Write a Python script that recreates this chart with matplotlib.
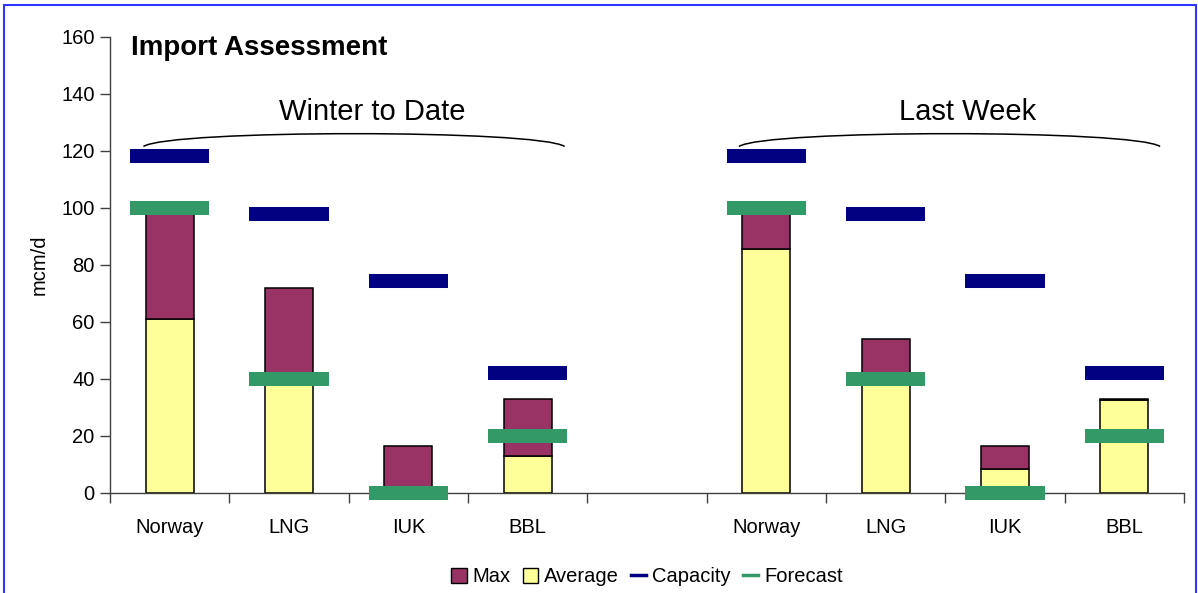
import numpy as np
import matplotlib
matplotlib.use("Agg")
import matplotlib.pyplot as plt
from matplotlib.patches import Patch, PathPatch, Rectangle
from matplotlib.lines import Line2D
from matplotlib.path import Path

plt.rcParams["font.family"] = ["Liberation Sans", "DejaVu Sans"]

# ── Data ──────────────────────────────────────────────────────────────────────
categories = ["Norway", "LNG", "IUK", "BBL", "", "Norway", "LNG", "IUK", "BBL"]
average    = [61, 40, 0, 13, np.nan, 85.5, 40, 8.5, 32.5]
maximum    = [99, 72, 16.5, 33, np.nan, 99, 54, 16.5, 33]
capacity   = [118, 98, 74.5, 42, np.nan, 118, 98, 74.5, 42]
forecast   = [100, 40, 0, 20, np.nan, 100, 40, 0, 20]
group_labels = ["Winter to Date", "Last Week"]

C_MAX, C_AVG = "#993366", "#FFFF99"
C_CAP, C_FC  = "#000080", "#339966"

x = np.arange(len(categories)) + 0.5
avg = np.array(average, dtype=float)
mx  = np.array(maximum, dtype=float)

fig = plt.figure(figsize=(11.98, 5.93), dpi=100)
ax = fig.add_axes([110 / 1198, 1 - 493 / 593, 1074 / 1198, (493 - 36.7) / 593])

# stacked bars: average at bottom, max on top
ax.bar(x, avg, width=0.4, color=C_AVG, edgecolor="black", linewidth=1.1, zorder=2)
ax.bar(x, mx - avg, bottom=avg, width=0.4, color=C_MAX, edgecolor="black",
       linewidth=1.1, zorder=2)

# capacity / forecast dashes (not clipped, the zero forecasts hang below the axis)
ax.hlines(capacity, x - 0.333, x + 0.333, colors=C_CAP, linewidth=10.1, zorder=3,
          capstyle="butt", clip_on=False)
ax.hlines(forecast, x - 0.333, x + 0.333, colors=C_FC, linewidth=10.1, zorder=3,
          capstyle="butt", clip_on=False)

ax.set_xlim(0, len(categories))
ax.set_ylim(0, 160)
ax.set_yticks(np.arange(0, 161, 20))
ax.set_xticks(x)
ax.set_xticklabels(categories)
ax.set_xticks(np.arange(len(categories) + 1), minor=True)
ax.tick_params(axis="x", which="major", length=0, pad=18, labelsize=14.5)
ax.tick_params(axis="x", which="minor", length=7, width=1, color="#404040")
ax.tick_params(axis="y", length=7, width=1, color="#404040", labelsize=14.5, pad=4)
for s in ["top", "right"]:
    ax.spines[s].set_visible(False)
for s in ["left", "bottom"]:
    ax.spines[s].set_color("#404040")
    ax.spines[s].set_linewidth(1)
ax.set_ylabel("mcm/d", fontsize=14.5, labelpad=9)

# group braces and labels
for (x0, x1), label in zip([(0.28, 3.81), (5.27, 8.80)], group_labels):
    verts = [(x0, 121.5), (x0 + 0.22, 127.5), (x1 - 0.22, 127.5), (x1, 121.5)]
    path = Path(verts, [Path.MOVETO, Path.CURVE4, Path.CURVE4, Path.CURVE4])
    ax.add_patch(PathPatch(path, fill=False, edgecolor="black", linewidth=1.1,
                           zorder=4, clip_on=False))
    ax.text((x0 + x1) / 2 + 0.15, 133.5, label, fontsize=21, ha="center",
            va="center")

ax.text(0.175, 156, "Import Assessment", fontsize=20, fontweight="bold",
        ha="left", va="center")

handles = [
    Patch(facecolor=C_MAX, edgecolor="black", linewidth=1),
    Patch(facecolor=C_AVG, edgecolor="black", linewidth=1),
    Line2D([], [], color=C_CAP, linewidth=2.5),
    Line2D([], [], color=C_FC, linewidth=2.5),
]
fig.legend(handles, ["Max", "Average", "Capacity", "Forecast"], loc="center",
           bbox_to_anchor=(647 / 1198, 1 - 577 / 593), ncol=4, frameon=False,
           fontsize=14.5, handlelength=0.75, handleheight=0.75, handletextpad=0.3,
           columnspacing=0.6, borderpad=0)

# blue frame around the chart
fig.add_artist(Rectangle((4 / 1198, -0.05), 1192 / 1198, 1 - 5 / 593 + 0.05,
                         transform=fig.transFigure, fill=False,
                         edgecolor="#3333FF", linewidth=1.5))

fig.savefig("out.png", dpi=100)
